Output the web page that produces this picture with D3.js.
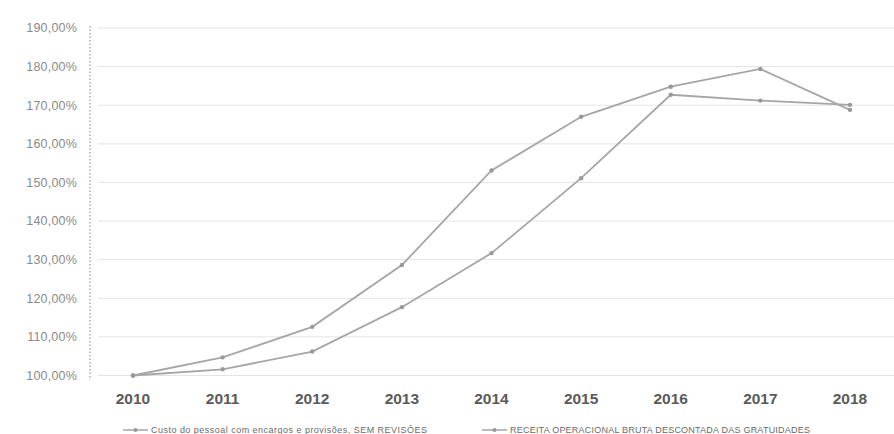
<!DOCTYPE html>
<html>
<head>
<meta charset="utf-8">
<script src="https://cdn.jsdelivr.net/npm/d3@7"></script>
<style>
  html, body { margin: 0; padding: 0; background: #fff; }
  svg { display: block; }
</style>
</head>
<body>
<svg id="chart" width="894" height="434"></svg>
<script>
// Years on the horizontal axis
const years = ["2010", "2011", "2012", "2013", "2014", "2015", "2016", "2017", "2018"];

// Accumulated growth, 2010 = 100%
const custoPessoal = [100.0, 104.7, 112.6, 128.6, 153.1, 167.0, 174.8, 179.4, 168.8];
const receitaBruta = [100.0, 101.6, 106.2, 117.7, 131.7, 151.1, 172.7, 171.2, 170.1];

const seriesNames = [
  "Custo do pessoal com encargos e provisões, SEM REVISÕES",
  "RECEITA OPERACIONAL BRUTA DESCONTADA DAS GRATUIDADES"
];

const yTicks = [100, 110, 120, 130, 140, 150, 160, 170, 180, 190];

const svg = d3.select("#chart");

const x = d3.scalePoint().domain(years).range([133, 850]);
const y = d3.scaleLinear().domain([100, 190]).range([375.5, 28]);

// Horizontal gridlines
svg.append("g")
  .selectAll("line")
  .data(yTicks)
  .join("line")
  .attr("x1", 98).attr("x2", 894)
  .attr("y1", d => y(d)).attr("y2", d => y(d))
  .attr("stroke", "#e4e4e4")
  .attr("stroke-width", 1);

// Dotted vertical axis
svg.append("line")
  .attr("x1", 90).attr("x2", 90)
  .attr("y1", 26).attr("y2", 380)
  .attr("stroke", "#9a9a9a")
  .attr("stroke-width", 1.2)
  .attr("stroke-dasharray", "1.5,2");

// Y tick labels
const fmt = v => v.toFixed(2).replace(".", ",") + "%";
svg.append("g")
  .selectAll("text")
  .data(yTicks)
  .join("text")
  .attr("x", 77)
  .attr("y", d => y(d))
  .attr("dy", "0.35em")
  .attr("text-anchor", "end")
  .attr("font-family", "Liberation Sans, Arial, sans-serif")
  .attr("font-size", 12.5)
  .attr("letter-spacing", 0.2)
  .attr("fill", "#8a8a8a")
  .text(fmt);

// X tick labels
svg.append("g")
  .selectAll("text")
  .data(years)
  .join("text")
  .attr("x", d => x(d))
  .attr("y", 404)
  .attr("text-anchor", "middle")
  .attr("font-family", "Liberation Sans, Arial, sans-serif")
  .attr("font-weight", "bold")
  .attr("font-size", 15.5)
  .attr("fill", "#5a5a5a")
  .text(d => d);

// Lines with small markers
const line = d3.line()
  .x((d, i) => x(years[i]))
  .y(d => y(d));

const lineColor = "#a6a6a6";
[custoPessoal, receitaBruta].forEach(values => {
  svg.append("path")
    .datum(values)
    .attr("d", line)
    .attr("fill", "none")
    .attr("stroke", lineColor)
    .attr("stroke-width", 1.8);
  svg.append("g")
    .selectAll("circle")
    .data(values)
    .join("circle")
    .attr("cx", (d, i) => x(years[i]))
    .attr("cy", d => y(d))
    .attr("r", 2.2)
    .attr("fill", "#999");
});

// Legend
const legend = svg.append("g");
const legendItems = [
  { name: seriesNames[0], x0: 123, width: 276 },
  { name: seriesNames[1], x0: 482, width: 300 }
];
legendItems.forEach(item => {
  const g = legend.append("g").attr("transform", `translate(${item.x0},430)`);
  g.append("line")
    .attr("x1", 0).attr("x2", 25)
    .attr("stroke", lineColor).attr("stroke-width", 1.5);
  g.append("circle").attr("cx", 12.5).attr("r", 2).attr("fill", "#999");
  g.append("text")
    .attr("x", 28)
    .attr("dy", "0.35em")
    .attr("font-family", "Liberation Sans, Arial, sans-serif")
    .attr("font-size", 9)
    .attr("textLength", item.width)
    .attr("lengthAdjust", "spacing")
    .attr("fill", "#6a6a6a")
    .text(item.name);
});
</script>
</body>
</html>
